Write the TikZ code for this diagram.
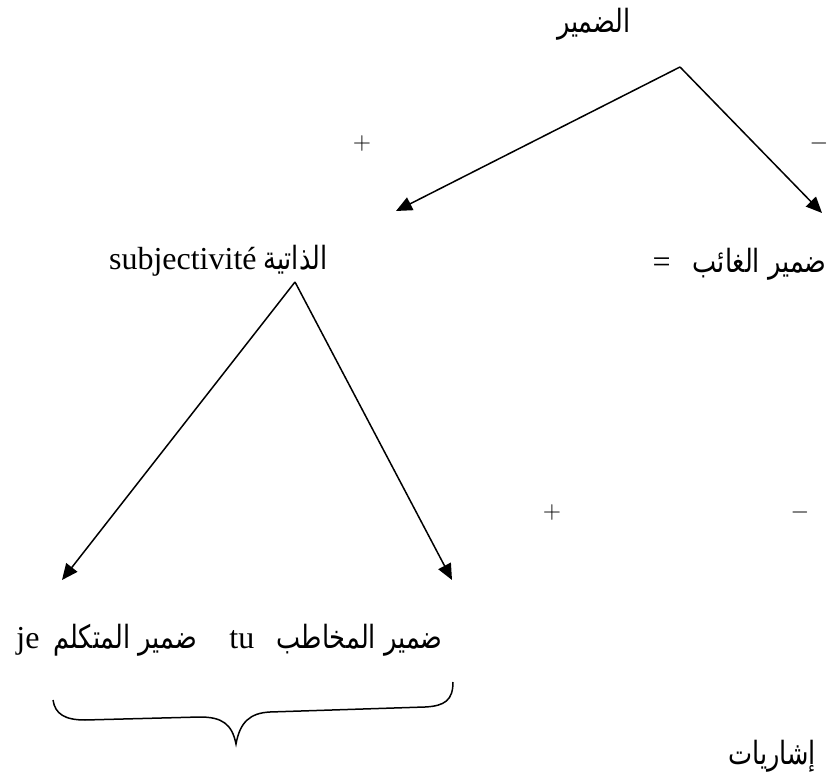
\documentclass[tikz,border=0pt]{standalone}
\usepackage{fontspec}
\setmainfont{Liberation Serif}
\newfontfamily\arabicfont[Script=Arabic,FakeStretch=0.8]{DejaVu Sans}
\TeXXeTstate=1
\usetikzlibrary{arrows.meta}

\begin{document}
\begin{tikzpicture}[x=0.5pt,y=-0.5pt,
	latin/.style={font=\fontsize{16}{19}\selectfont,inner sep=0pt},
	arabe/.style={font=\arabicfont\fontsize{16}{19}\selectfont,inner sep=0pt},
	signe/.style={font=\fontsize{12}{14}\selectfont,inner sep=0pt},
	fleche/.style={-{Triangle[length=8pt,width=7pt]},line width=0.75pt}]
	\useasboundingbox (0,0) rectangle (835,774);
	\node[arabe] (damir) at (594,24) {\beginR الضمير\endR};
	\coordinate (haut) at (680,67);
	\coordinate (gauche) at (396,211);
	\coordinate (droite) at (822,213);
	\draw[fleche] (haut) -- (gauche);
	\draw[fleche] (haut) -- (droite);
	\node[signe] (plus1) at (362,144) {$+$};
	\node[signe] (moins1) at (819,144) {$-$};
	\node[latin,anchor=base east] (subj) at (257,270) {subjectivité};
	\node[arabe,anchor=base west] (dhatiya) at (263,270) {\beginR الذاتية\endR};
	\node[latin,anchor=base east] (egal) at (671,273) {=};
	\node[arabe,anchor=base east] (ghaib) at (827,273) {\beginR ضمير الغائب\endR};
	\coordinate (bas) at (295,282);
	\coordinate (basg) at (62,580);
	\coordinate (basd) at (452,580);
	\draw[fleche] (bas) -- (basg);
	\draw[fleche] (bas) -- (basd);
	\node[signe] (plus2) at (552,513) {$+$};
	\node[signe] (moins2) at (800,513) {$-$};
	\node[latin,anchor=base west] (je) at (16,648) {je};
	\node[arabe,anchor=base west] (motakallim) at (53,648) {\beginR ضمير المتكلم\endR};
	\node[latin,anchor=base west] (tu) at (229,648) {tu};
	\node[arabe,anchor=base east] (mukhatab) at (443,648) {\beginR ضمير المخاطب\endR};
	% accolade
	\draw[line width=0.75pt] (453,682) .. controls (453,700) and (445,706) .. (425,707)
		-- (270,712) .. controls (250,713) and (240,722) .. (236,744)
		.. controls (232,724) and (222,717) .. (200,717)
		-- (85,720) .. controls (65,720) and (55,714) .. (53,700);
	\node[arabe] (ishariyat) at (772,756) {\beginR إشاريات\endR};
\end{tikzpicture}
\end{document}
